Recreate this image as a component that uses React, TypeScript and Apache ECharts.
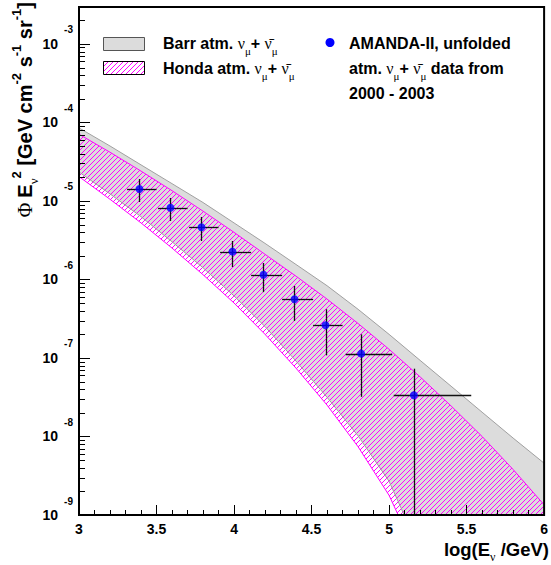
import React, { useEffect, useRef } from "react";
import * as echarts from "echarts";

// ---------- data (flux values in GeV cm^-2 s^-1 sr^-1, x = log10(E/GeV)) ----------
const energyBins = [3.39, 3.59, 3.79, 3.99, 4.19, 4.39, 4.59, 4.82, 5.16];
const binLow = [3.31, 3.51, 3.71, 3.91, 4.11, 4.31, 4.51, 4.72, 5.03];
const binHigh = [3.5, 3.7, 3.9, 4.11, 4.31, 4.51, 4.7, 5.02, 5.53];
const fluxValues = [1.42e-5, 8.2e-6, 4.62e-6, 2.26e-6, 1.15e-6, 5.6e-7, 2.61e-7, 1.135e-7, 3.35e-8];
const fluxUpper = [1.9e-5, 1.09e-5, 6.25e-6, 3.09e-6, 1.62e-6, 8.26e-7, 4.17e-7, 2.0e-7, 7.3e-8];
const fluxLower = [9.7e-6, 5.56e-6, 3.09e-6, 1.44e-6, 6.9e-7, 2.96e-7, 1.08e-7, 3.2e-8, 1e-10];

const bandX = [3.0, 3.2, 3.4, 3.6, 3.8, 4.0, 4.2, 4.4, 4.6, 4.8, 5.0, 5.2, 5.4, 5.6, 5.8, 6.0];
const barrUpper = [8.51e-5, 5.01e-5, 2.88e-5, 1.66e-5, 9.55e-6, 5.25e-6, 2.88e-6, 1.55e-6, 8.32e-7, 4.17e-7, 2.0e-7, 9.33e-8, 4.37e-8, 2.04e-8, 9.55e-9, 4.57e-9];
const hondaUpper = [7.08e-5, 4.17e-5, 2.4e-5, 1.35e-5, 7.41e-6, 3.98e-6, 2.09e-6, 1.1e-6, 5.62e-7, 2.75e-7, 1.29e-7, 5.75e-8, 2.45e-8, 1.0e-8, 3.8e-9, 1.35e-9];
const lowerX = [3.0, 3.2, 3.4, 3.6, 3.8, 4.0, 4.2, 4.4, 4.6, 4.8, 5.0, 5.2];
const barrLower = [2.34e-5, 1.23e-5, 6.31e-6, 3.02e-6, 1.41e-6, 6.17e-7, 2.51e-7, 9.12e-8, 3.16e-8, 1.02e-8, 2.69e-9, 3.55e-10];
const hondaLower = [2.04e-5, 1.05e-5, 5.25e-6, 2.51e-6, 1.15e-6, 5.01e-7, 2.0e-7, 7.41e-8, 2.51e-8, 7.41e-9, 1.78e-9, 2.51e-10];

// y-axis tick decades (exponents) and log-minor multipliers
const yDecades = [-9, -8, -7, -6, -5, -4, -3];
const yMinorFactors = [2, 3, 4, 5, 6, 7, 8, 9];

const X_MIN = 3;
const X_MAX = 6;
const X_INTERVAL = 0.5;
const Y_MIN = -9; // log10 of 1e-9
const Y_MAX = -2.53;

const FONT = "'Liberation Sans', Arial, Helvetica, sans-serif";
const GREEK = "'Liberation Serif', 'DejaVu Serif', serif";
const MAGENTA = "#ff00ff";
const BARR_FILL = "#dcdcdc";
const BARR_LINE = "#a0a0a0";

const lg = (v: number) => Math.log10(v);

function makeHatch() {
  const s = 10;
  const c = document.createElement("canvas");
  c.width = s;
  c.height = s;
  const ctx = c.getContext("2d")!;
  ctx.clearRect(0, 0, s, s);
  ctx.strokeStyle = MAGENTA;
  ctx.lineWidth = 1;
  ctx.beginPath();
  const step = 5;
  for (let k = -3; k <= 3; k++) {
    ctx.moveTo(k * step - 1, s + 1);
    ctx.lineTo(k * step + s + 1, -1);
  }
  ctx.stroke();
  return { image: c, repeat: "repeat", imageWidth: s, imageHeight: s } as any;
}

function bandFill(upperX: number[], upper: number[], lowX: number[], lower: number[], fill: any, z: number) {
  return {
    type: "custom",
    z,
    clip: true,
    silent: true,
    data: [[X_MIN, Y_MIN]],
    renderItem: (_p: any, api: any) => {
      const up = upperX.map((x, i) => api.coord([x, lg(upper[i])]));
      const lo = lowX.map((x, i) => api.coord([x, lg(lower[i])]));
      const closeA = api.coord([upperX[upperX.length - 1], Y_MIN - 1.5]);
      const closeB = api.coord([lowX[lowX.length - 1], Y_MIN - 1.5]);
      const poly = [...up, closeA, closeB, ...lo.slice().reverse()];
      return { type: "polygon", shape: { points: poly }, style: { fill, stroke: null } };
    },
  };
}

function bandEdge(xs: number[], ys: number[], color: string, z: number) {
  return {
    type: "line",
    z,
    silent: true,
    clip: true,
    symbol: "none",
    lineStyle: { color, width: 1 },
    data: xs.map((x, i) => [x, lg(ys[i])]),
  };
}

export default function App() {
  const ref = useRef<HTMLDivElement>(null);

  useEffect(() => {
    if (!ref.current) return;
    const chart = echarts.init(ref.current, undefined, { renderer: "svg" });
    const hatch = makeHatch();

    const pointData = energyBins.map((x, i) => [
      x,
      lg(fluxValues[i]),
      binLow[i],
      binHigh[i],
      lg(fluxUpper[i]),
      lg(fluxLower[i]),
    ]);

    const tText = { fontFamily: FONT, fontWeight: "bold", fontSize: 16, lineHeight: 26, color: "#000" };
    const gText = { fontFamily: GREEK, fontSize: 16, lineHeight: 26, color: "#000" };
    const subText = { fontFamily: GREEK, fontSize: 11, lineHeight: 11, verticalAlign: "bottom", color: "#000" };
    const legendRich = { t: tText, g: gText, s: subText };
    const nuPair = "{g|ν}{s|μ}{t|+ }{g|ν\u0304}{s|μ}";

    const mkText = (x: number, y: number, text: string, rich: any, extra: any = {}) => ({
      type: "text",
      x,
      y,
      z: 20,
      ...extra,
      style: {
        text,
        rich,
        fill: "#000",
        align: extra.align || "left",
        textAlign: extra.align || "left",
        verticalAlign: "middle",
        textVerticalAlign: "middle",
      },
    });

    const graphics: any[] = [
      {
        type: "rect",
        z: 20,
        shape: { x: 103.5, y: 37.5, width: 41, height: 13 },
        style: { fill: BARR_FILL, stroke: "#555", lineWidth: 1 },
      },
      {
        type: "rect",
        z: 20,
        shape: { x: 103.5, y: 61.5, width: 41, height: 13 },
        style: { fill: hatch, stroke: "#000", lineWidth: 1 },
      },
      {
        type: "circle",
        z: 20,
        shape: { cx: 330, cy: 42.5, r: 4.5 },
        style: { fill: "#0000ff" },
      },
      mkText(163, 43, "{t|Barr atm. }" + nuPair, legendRich),
      mkText(163, 68, "{t|Honda atm. }" + nuPair, legendRich),
      mkText(349, 43, "{t|AMANDA-II, unfolded}", legendRich),
      mkText(349, 68, "{t|atm. }" + nuPair + "{t| data from}", legendRich),
      mkText(349, 93, "{t|2000 - 2003}", legendRich),
      mkText(
        549,
        549,
        "{t|log(E}{s|ν}{t| /GeV)}",
        {
          t: { fontFamily: FONT, fontWeight: "bold", fontSize: 18.5, lineHeight: 28, color: "#000" },
          s: { fontFamily: GREEK, fontSize: 12, lineHeight: 12, verticalAlign: "bottom", color: "#000" },
        },
        { align: "right" }
      ),
      mkText(
        25,
        2,
        "{g|Φ }{t|E}{s|ν}{p|2}{t| [GeV cm}{p|-2}{t| s}{p|-1}{t| sr}{p|-1}{t|]}",
        {
          t: { fontFamily: FONT, fontWeight: "bold", fontSize: 20, lineHeight: 30, color: "#000" },
          g: { fontFamily: GREEK, fontSize: 20, lineHeight: 30, color: "#000" },
          s: { fontFamily: GREEK, fontSize: 13, lineHeight: 13, verticalAlign: "bottom", color: "#000" },
          p: { fontFamily: FONT, fontWeight: "bold", fontSize: 13, lineHeight: 13, verticalAlign: "top", color: "#000" },
        },
        { align: "right", rotation: Math.PI / 2 }
      ),
    ];

    const option: any = {
      animation: false,
      backgroundColor: "#fff",
      grid: {
        left: 79,
        top: 7,
        width: 469,
        height: 508,
        show: true,
        borderColor: "#000",
        borderWidth: 2,
        backgroundColor: "transparent",
        z: 10,
      },
      xAxis: {
        type: "value",
        min: X_MIN,
        max: X_MAX,
        interval: X_INTERVAL,
        z: 10,
        axisLine: { show: true, onZero: false, lineStyle: { color: "#000", width: 2 } },
        axisTick: { show: true, inside: true, length: 10, lineStyle: { color: "#000", width: 1 } },
        minorTick: { show: true, splitNumber: 5, length: 5, lineStyle: { color: "#000", width: 1 } },
        splitLine: { show: false },
        minorSplitLine: { show: false },
        axisLabel: { color: "#000", fontFamily: FONT, fontWeight: "bold", fontSize: 14, margin: 7 },
      },
      yAxis: {
        type: "value",
        min: Y_MIN,
        max: Y_MAX,
        interval: 1,
        z: 10,
        axisLine: { show: true, onZero: false, lineStyle: { color: "#000", width: 2 } },
        axisTick: { show: false },
        splitLine: { show: false },
        axisLabel: {
          margin: 6,
          formatter: (v: number) => (Number.isInteger(v) ? `{b|10}{e|${v}}` : ""),
          rich: {
            b: { fontFamily: FONT, fontWeight: "bold", fontSize: 14, lineHeight: 38, color: "#000" },
            e: {
              fontFamily: FONT,
              fontWeight: "bold",
              fontSize: 10,
              lineHeight: 12,
              verticalAlign: "top",
              padding: [0, 0, 0, 6],
              color: "#000",
            },
          },
        },
      },
      series: [
        bandFill(bandX, barrUpper, lowerX, barrLower, BARR_FILL, 2),
        bandFill(bandX, hondaUpper, lowerX, hondaLower, hatch, 3),
        bandEdge(bandX, barrUpper, BARR_LINE, 4),
        bandEdge(lowerX, barrLower, BARR_LINE, 4),
        bandEdge(bandX, hondaUpper, MAGENTA, 4),
        bandEdge(lowerX, hondaLower, MAGENTA, 4),
        {
          type: "custom",
          z: 7,
          clip: true,
          silent: true,
          encode: { x: 0, y: 1 },
          data: pointData,
          renderItem: (_p: any, api: any) => {
            const c = api.coord([api.value(0), api.value(1)]);
            const l = api.coord([api.value(2), api.value(1)]);
            const r = api.coord([api.value(3), api.value(1)]);
            const t = api.coord([api.value(0), api.value(4)]);
            const b = api.coord([api.value(0), api.value(5)]);
            const cx = Math.round(c[0]) + 0.5;
            const cy = Math.round(c[1]) + 0.5;
            const st = { stroke: "#111", lineWidth: 1.3 };
            return {
              type: "group",
              children: [
                { type: "line", shape: { x1: l[0], y1: cy, x2: r[0], y2: cy }, style: st },
                { type: "line", shape: { x1: cx, y1: t[1], x2: cx, y2: b[1] }, style: st },
              ],
            };
          },
        },
        {
          type: "scatter",
          z: 8,
          silent: true,
          symbol: "circle",
          symbolSize: 8,
          itemStyle: { color: "#0000ff" },
          data: pointData.map((d) => [d[0], d[1]]),
        },
      ],
      graphic: graphics,
    };

    chart.setOption(option);

    // log-spaced y ticks, positioned through the chart's own y scale
    const tickEls: any[] = [];
    const addTick = (v: number, len: number) => {
      if (v > Y_MAX) return;
      const pt = chart.convertToPixel({ gridIndex: 0 }, [X_MIN, v]) as number[];
      const y = Math.round(pt[1]) + 0.5;
      tickEls.push({
        type: "line",
        z: 15,
        shape: { x1: pt[0], y1: y, x2: pt[0] + len, y2: y },
        style: { stroke: "#000", lineWidth: 1 },
      });
    };
    yDecades.forEach((e) => {
      addTick(e, 11);
      yMinorFactors.forEach((k) => addTick(e + Math.log10(k), 6));
    });
    chart.setOption({ graphic: [...graphics, ...tickEls] });

    return () => chart.dispose();
  }, []);

  return (
    <div
      ref={ref}
      style={{ position: "fixed", left: 0, top: 0, width: 551, height: 565, background: "#fff" }}
    />
  );
}
